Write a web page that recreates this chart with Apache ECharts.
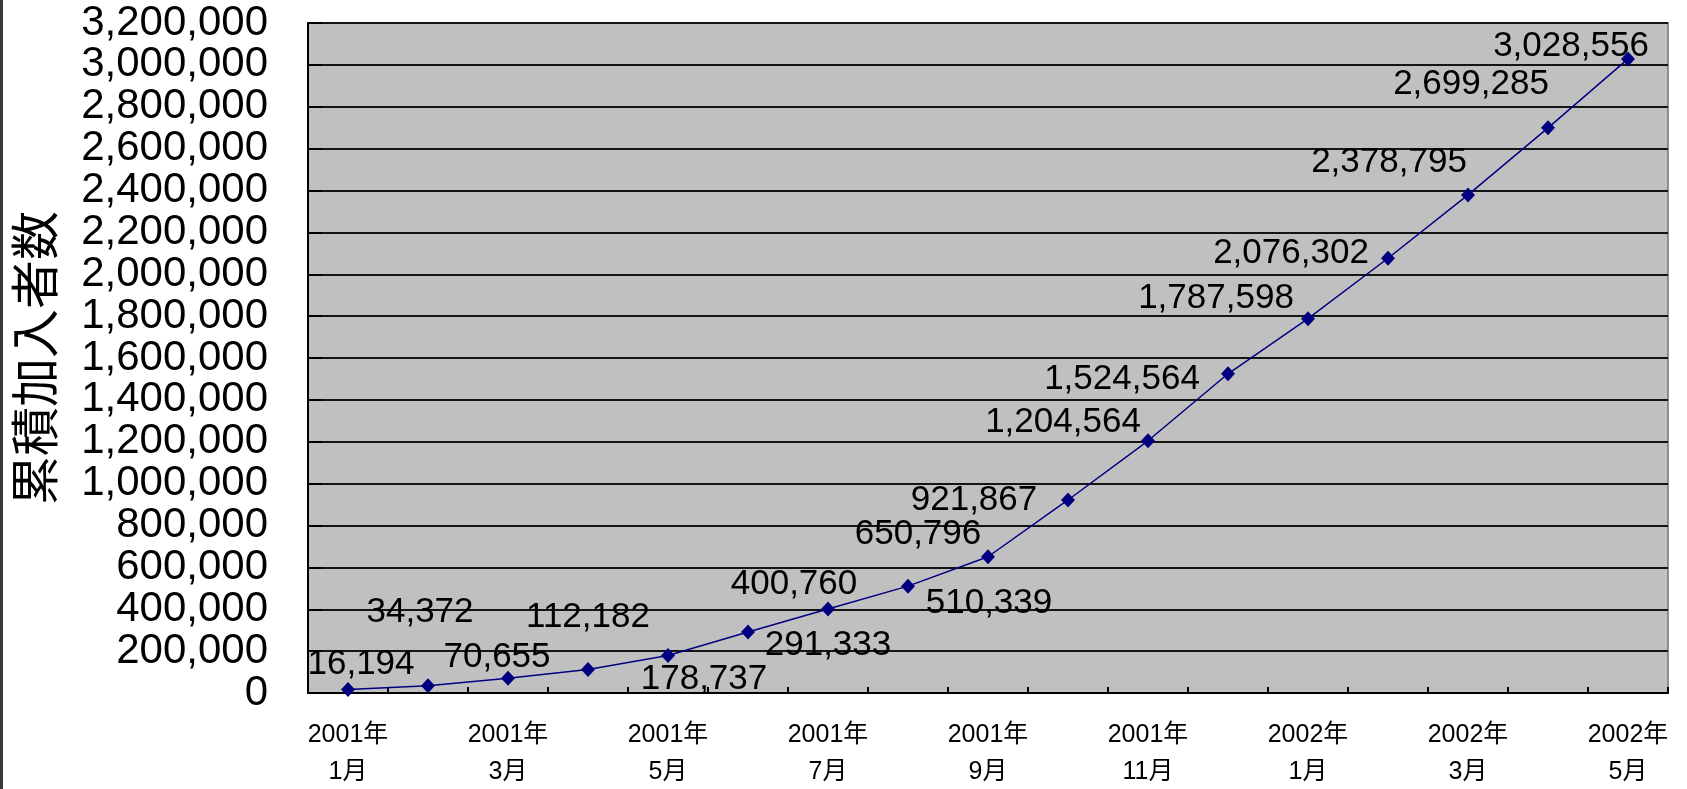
<!DOCTYPE html>
<html>
<head>
<meta charset="utf-8">
<script src="https://cdn.jsdelivr.net/npm/echarts@6/dist/echarts.min.js"></script>
<style>
  html, body { margin: 0; padding: 0; background: #fff; }
  #chart { width: 1687px; height: 789px; box-sizing: border-box; border-left: 3px solid #3a3a3a; }
</style>
</head>
<body>
<div id="chart"></div>
<script>
// cumulative subscribers, monthly, Jan 2001 .. May 2002
const months = [
  '2001年\n1月', '2001年\n2月', '2001年\n3月', '2001年\n4月', '2001年\n5月', '2001年\n6月',
  '2001年\n7月', '2001年\n8月', '2001年\n9月', '2001年\n10月', '2001年\n11月', '2001年\n12月',
  '2002年\n1月', '2002年\n2月', '2002年\n3月', '2002年\n4月', '2002年\n5月'
]
const subscribers = [
  16194, 34372, 70655, 112182, 178737, 291333, 400760, 510339, 650796,
  921867, 1204564, 1524564, 1787598, 2076302, 2378795, 2699285, 3028556
]
const yAxisTitle = '累積加入者数'

// where each data label's centre sits relative to its marker (px)
const labelOffsets = [
  [13, -25], [-8, -73], [-11, -21], [0, -52], [36, 24], [80, 13], [-34, -25], [81, 17],
  [-70, -22], [-94, 0], [-85, -18], [-106, 6], [-92, -20], [-97, -5], [-79, -33], [-77, -43], [-57, -13]
]

const FONT = '"Liberation Sans", "Noto Sans CJK JP", sans-serif'
const SYM = [14, 15]
const fmt = v => v.toLocaleString('en-US')

const chart = echarts.init(document.getElementById('chart'), null, { renderer: 'canvas' })
chart.setOption({
  animation: false,
  textStyle: { fontFamily: FONT, color: '#000' },
  grid: {
    left: 305, right: 19, top: 23, bottom: 96,
    show: true, backgroundColor: '#c0c0c0', borderColor: '#8f8f8f', borderWidth: 2,
    containLabel: false, outerBoundsMode: 'none'
  },
  xAxis: {
    type: 'category',
    data: months,
    boundaryGap: true,
    axisLine: { lineStyle: { color: '#000', width: 2 } },
    axisTick: { show: true, inside: true, length: 6, interval: 0, lineStyle: { color: '#000', width: 2 } },
    axisLabel: {
      interval: 1, color: '#000', fontSize: 25, lineHeight: 37, margin: 24,
      fontFamily: FONT, hideOverlap: false
    },
    splitLine: { show: false }
  },
  yAxis: {
    type: 'value',
    min: 0, max: 3200000, interval: 200000,
    name: yAxisTitle,
    nameLocation: 'middle',
    nameRotate: 90,
    nameGap: 249,
    nameTextStyle: { fontSize: 49, color: '#000', fontFamily: '"Noto Sans CJK JP", sans-serif' },
    axisLine: { show: true, lineStyle: { color: '#000', width: 2 } },
    axisTick: { show: true, inside: true, length: 14, lineStyle: { color: '#000', width: 2 } },
    axisLabel: { color: '#000', fontSize: 42, margin: 40, fontFamily: FONT, formatter: fmt },
    splitLine: { lineStyle: { color: '#141414', width: 2, type: 'solid' } }
  },
  series: [{
    type: 'line',
    data: subscribers.map((v, i) => ({
      value: v,
      label: { position: [SYM[0] / 2 + labelOffsets[i][0], SYM[1] / 2 + labelOffsets[i][1]] }
    })),
    lineStyle: { color: '#000080', width: 1.5 },
    itemStyle: { color: '#000080' },
    symbol: 'diamond',
    symbolSize: SYM,
    label: {
      show: true, align: 'center', verticalAlign: 'middle',
      color: '#000', fontSize: 35, fontFamily: FONT,
      formatter: p => fmt(p.value)
    },
    labelLayout: { hideOverlap: false }
  }]
})
</script>
</body>
</html>
